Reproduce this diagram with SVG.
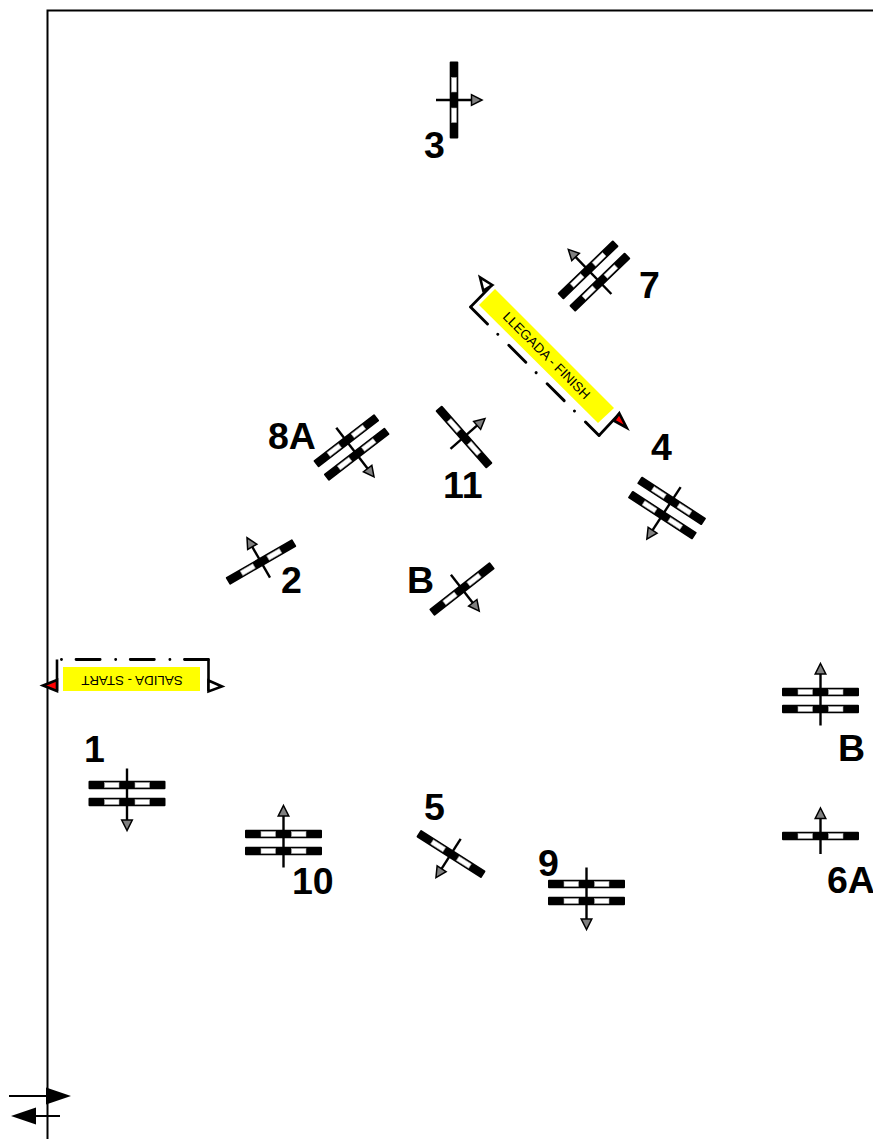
<svg xmlns="http://www.w3.org/2000/svg" xmlns:xlink="http://www.w3.org/1999/xlink" width="873" height="1139" viewBox="0 0 873 1139">
<style>
.lbl{font-family:"Liberation Sans",Arial,sans-serif;font-weight:700;font-size:37.500px;fill:#000}
.ban{font-family:"Liberation Sans",Arial,sans-serif;font-size:13.400px;fill:#000;text-anchor:middle}
.ln{fill:none;stroke:#000;stroke-width:2}
.bar{fill:#000}
.gap{fill:#fff;stroke:#aaa;stroke-width:.6}
.head{fill:#808080;stroke:#000;stroke-width:1.500;stroke-linejoin:miter}
.stem{stroke:#000;stroke-width:2.400;fill:none}
.track{fill:none;stroke:#000;stroke-width:2.600;stroke-linejoin:miter}
.dash{stroke-dasharray:24 14.600 .01 15.600;stroke-linecap:round;stroke-width:2.900}
</style>
<defs>
<g id="bar"><rect class="bar" x="-38.500" y="-4.300" width="77" height="8.600" rx="1"/><rect class="gap" x="-22.500" y="-2.500" width="14.500" height="5"/><rect class="gap" x="8" y="-2.500" width="14.500" height="5"/></g>
<g id="s1"><use xlink:href="#bar"/><path class="stem" d="M0 18V-18"/><path class="head" d="M0-28L5.300-17.500H-5.300Z"/></g>
<g id="s2"><use xlink:href="#bar" y="-8.500"/><use xlink:href="#bar" y="8.500"/><path class="stem" d="M0 25V-27"/><path class="head" d="M0-37L5.300-26.500H-5.300Z"/></g>
</defs>
<g id="frame"><path class="ln" d="M873 10.500H47.500V1139"/></g>
<g id="connectors">
<path class="ln" d="M9 1096H47"/><path d="M46 1087.500L71 1096L46 1104.500Z" fill="#000"/>
<path class="ln" d="M60 1116H35"/><path d="M36 1107.500L11 1116L36 1124.500Z" fill="#000"/>
</g>
<g id="gate-3"><use xlink:href="#s1" transform="translate(454 100) rotate(90)"/><text class="lbl" x="424" y="158">3</text></g>
<g id="gate-7"><use xlink:href="#s2" transform="translate(594 276) rotate(-44)"/><text class="lbl" x="639" y="298">7</text></g>
<g id="gate-8A"><use xlink:href="#s2" transform="translate(351.500 447.500) rotate(142.500)"/><text class="lbl" x="268" y="449">8A</text></g>
<g id="gate-11"><use xlink:href="#s1" transform="translate(464 437) rotate(48.600)"/><text class="lbl" x="443" y="498">11</text></g>
<g id="gate-4"><use xlink:href="#s2" transform="translate(667 508) rotate(213)"/><text class="lbl" x="651" y="460">4</text></g>
<g id="gate-2"><use xlink:href="#s1" transform="translate(261 562) rotate(-30)"/><text class="lbl" x="281" y="593">2</text></g>
<g id="gate-B-mid"><use xlink:href="#s1" transform="translate(462 589) rotate(142)"/><text class="lbl" x="407" y="593">B</text></g>
<g id="gate-5"><use xlink:href="#s1" transform="translate(451 854) rotate(212.500)"/><text class="lbl" x="424" y="820">5</text></g>
<g id="gate-9"><use xlink:href="#s2" transform="translate(586.500 892.500) rotate(180)"/><text class="lbl" x="538" y="876">9</text></g>
<g id="gate-1"><use xlink:href="#s2" transform="translate(127 793.500) rotate(180)"/><text class="lbl" x="84" y="762">1</text></g>
<g id="gate-10"><use xlink:href="#s2" transform="translate(283.500 842.500)"/><text class="lbl" x="292" y="894">10</text></g>
<g id="gate-B-right"><use xlink:href="#s2" transform="translate(820.500 700.500)"/><text class="lbl" x="838" y="761">B</text></g>
<g id="gate-6A"><use xlink:href="#s1" transform="translate(820.500 836)"/><text class="lbl" x="827" y="893">6A</text></g>
<g id="start">
<rect x="63" y="667" width="137" height="24" fill="#ff0"/>
<text class="ban" transform="translate(132 675.500) rotate(180)">SALIDA - START</text>
<path class="track dash" d="M208.500 659.500H57"/>
<path class="track" d="M208.500 691V659.500M57 691V659.500"/>
<path class="track" d="M208.500 680.500L222 686.500L208.500 691.500Z" style="fill:#fff"/>
<path class="track" d="M57 680L43 685.500L57 691Z" style="fill:#f00"/>
</g>
<g id="finish">
<path d="M495 289L479 305L598 423L614 408Z" fill="#ff0"/>
<text class="ban" transform="translate(546.500 355.500) rotate(45) translate(0 4.500)">LLEGADA - FINISH</text>
<path class="track dash" d="M470.500 307L599 435.500"/>
<path class="track" d="M492 285L470.500 307M599 435.500L619.500 413.500"/>
<path class="track" d="M492.300 285L480 277.300L483.300 290.700Z" style="fill:#fff"/>
<path class="track" d="M619.300 413.300L626.700 427.700L614 420.700Z" style="fill:#f00"/>
</g>
</svg>
